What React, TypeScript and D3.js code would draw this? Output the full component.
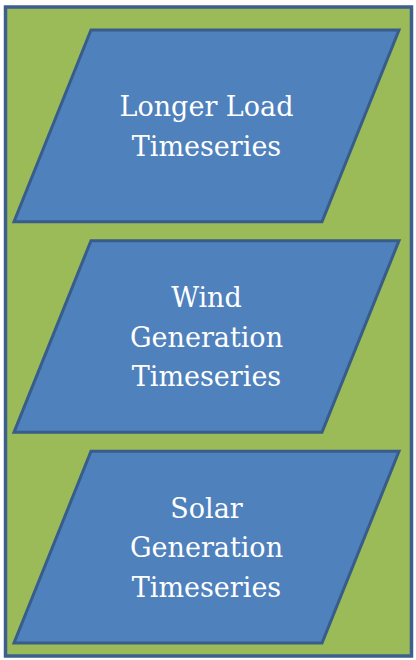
import React from "react";
import * as d3 from "d3";

const boxIds = ["load", "wind", "solar"];
const boxLabels = [
  ["Longer Load", "Timeseries"],
  ["Wind", "Generation", "Timeseries"],
  ["Solar", "Generation", "Timeseries"],
];

const App = () => {
  const width = 416;
  const height = 660;
  const skew = 77;
  const lineH = 39.5;

  const y = d3.scaleBand().domain(boxIds).range([30, 643]).paddingInner(0.09);
  const x = d3.scaleLinear().domain([0, 1]).range([14, 322]);

  const shape = (id) => {
    const top = y(id);
    const bot = top + y.bandwidth();
    const p = d3.path();
    p.moveTo(x(0) + skew, top);
    p.lineTo(x(1) + skew, top);
    p.lineTo(x(1), bot);
    p.lineTo(x(0), bot);
    p.closePath();
    return p.toString();
  };

  const cx = (x(0) + x(1) + skew) / 2;

  return (
    <svg
      width={width}
      height={height}
      style={{ position: "absolute", left: 0, top: 0 }}
    >
      <rect x={0} y={0} width={width} height={height} fill="#ffffff" />
      <rect
        x={5.5}
        y={7}
        width={406}
        height={649}
        fill="#9bbb59"
        stroke="#3c5f8e"
        strokeWidth={3.5}
      />
      {boxIds.map((id, i) => {
        const mid = y(id) + y.bandwidth() / 2;
        const lines = boxLabels[i];
        return (
          <g key={id}>
            <path d={shape(id)} fill="#4f81bd" stroke="#385d8a" strokeWidth={3} strokeLinejoin="miter" />
            {lines.map((t, j) => (
              <text
                key={j}
                x={cx}
                y={mid + (j - (lines.length - 1) / 2) * lineH + 10}
                textAnchor="middle"
                fill="#ffffff"
                fontFamily="'DejaVu Serif', serif"
                fontSize={27}
              >
                {t}
              </text>
            ))}
          </g>
        );
      })}
    </svg>
  );
};

export default App;
